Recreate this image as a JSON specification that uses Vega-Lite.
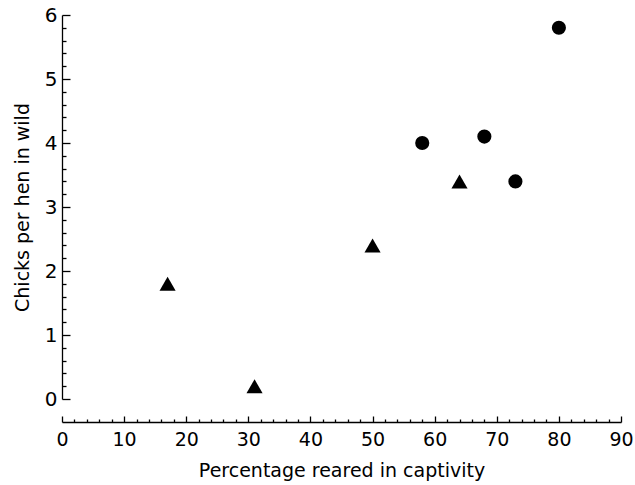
{
  "$schema": "https://vega.github.io/schema/vega-lite/v6.json",
  "width": 559,
  "height": 384,
  "autosize": {"type": "none"},
  "padding": {"left": 62, "top": 15, "right": 14, "bottom": 86},
  "background": "white",
  "config": {
    "view": {"stroke": null},
    "axis": {"labelFont": "DejaVu Sans", "titleFont": "DejaVu Sans", "labelColor": "black", "titleColor": "black", "domainColor": "black", "tickColor": "black", "grid": false, "titleFontWeight": "normal", "domainWidth": 1.3, "tickWidth": 1.3}
  },
  "data": {
    "values": [
      {"pct": 17, "chicks": 1.8, "group": "triangle"},
      {"pct": 31, "chicks": 0.2, "group": "triangle"},
      {"pct": 50, "chicks": 2.4, "group": "triangle"},
      {"pct": 64, "chicks": 3.4, "group": "triangle"},
      {"pct": 58, "chicks": 4.0, "group": "circle"},
      {"pct": 68, "chicks": 4.1, "group": "circle"},
      {"pct": 73, "chicks": 3.4, "group": "circle"},
      {"pct": 80, "chicks": 5.8, "group": "circle"}
    ]
  },
  "mark": {"type": "point", "filled": true, "opacity": 1, "color": "black"},
  "encoding": {
    "x": {
      "field": "pct", "type": "quantitative",
      "scale": {"domain": [0, 90], "nice": false, "zero": false},
      "axis": {
        "title": "Percentage reared in captivity",
        "titleFontSize": 19, "labelFontSize": 19,
        "offset": 23,
        "values": [0,2,4,6,8,10,12,14,16,18,20,22,24,26,28,30,32,34,36,38,40,42,44,46,48,50,52,54,56,58,60,62,64,66,68,70,72,74,76,78,80,82,84,86,88,90],
        "labelExpr": "datum.value % 10 === 0 ? datum.label : ''",
        "tickSize": {"condition": {"test": "datum.value % 10 === 0", "value": -6}, "value": -3},
        "labelPadding": 14,
        "titlePadding": 9,
        "labelFlush": false,
        "labelOverlap": false
      }
    },
    "y": {
      "field": "chicks", "type": "quantitative",
      "scale": {"domain": [0, 6], "nice": false},
      "axis": {
        "title": "Chicks per hen in wild",
        "titleFontSize": 19, "labelFontSize": 20,
        "values": [0,0.2,0.4,0.6,0.8,1,1.2,1.4,1.6,1.8,2,2.2,2.4,2.6,2.8,3,3.2,3.4,3.6,3.8,4,4.2,4.4,4.6,4.8,5,5.2,5.4,5.6,5.8,6],
        "labelExpr": "abs(datum.value - round(datum.value)) < 0.001 ? format(datum.value, 'd') : ''",
        "tickSize": {"condition": {"test": "abs(datum.value - round(datum.value)) < 0.001", "value": -8}, "value": -4},
        "labelPadding": 13,
        "titlePadding": 12,
        "labelFlush": false,
        "labelOverlap": false
      }
    },
    "shape": {
      "field": "group", "type": "nominal",
      "scale": {"domain": ["triangle", "circle"], "range": ["triangle-up", "circle"]},
      "legend": null
    },
    "size": {
      "field": "group", "type": "nominal",
      "scale": {"domain": ["triangle", "circle"], "range": [260, 200]},
      "legend": null
    }
  }
}
